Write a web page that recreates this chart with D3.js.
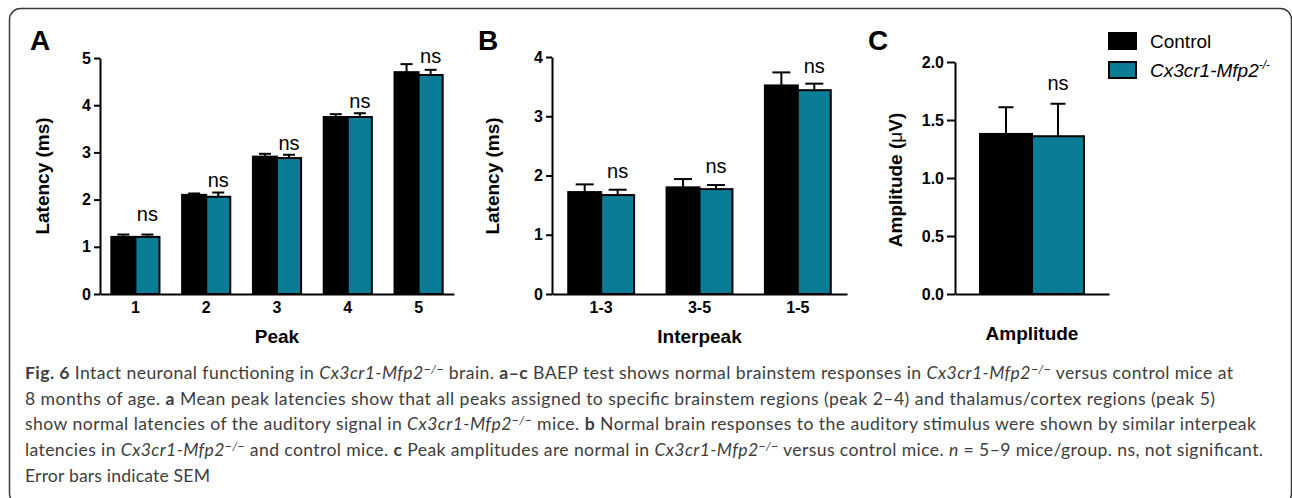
<html>
<head>
<script src="https://d3js.org/d3.v7.min.js"></script>
<style>
  body { margin: 0; background: #fff; }
</style>
</head>
<body>
<script>

    // ---- data ----
    let peakCats = ["1","2","3","4","5"];
    let peakControl = [1.21, 2.10, 2.91, 3.75, 4.70];
    let peakControlSem = [0.05, 0.03, 0.06, 0.06, 0.17];
    let peakMutant = [1.21, 2.06, 2.88, 3.75, 4.64];
    let peakMutantSem = [0.05, 0.09, 0.07, 0.08, 0.11];
    let peakNs = [1.55, 2.27, 3.05, 3.94, 4.89];
    let peakTicks = [0,1,2,3,4,5];

    let interCats = ["1-3","3-5","1-5"];
    let interControl = [1.72, 1.80, 3.52];
    let interControlSem = [0.13, 0.14, 0.22];
    let interMutant = [1.67, 1.77, 3.44];
    let interMutantSem = [0.09, 0.07, 0.11];
    let interNs = [1.96, 2.04, 3.73];
    let interTicks = [0,1,2,3,4];

    let ampCats = ["Amplitude"];
    let ampControl = [1.38];
    let ampControlSem = [0.23];
    let ampMutant = [1.36];
    let ampMutantSem = [0.28];
    let ampNs = [1.76];
    let ampTicks = [0,0.5,1.0,1.5,2.0];

    let seriesNames = ["Control","Cx3cr1-Mfp2"];
    let colors = ["#000000","#0a7c95"];

    // caption, one array per line: [text, style]
    let captionLines = [
        [["Fig. 6","b"],[" Intact neuronal functioning in ",""],["Cx3cr1-Mfp2","i"],["\u2212/\u2212","sup"],[" brain. ",""],["a\u2013c","b"],[" BAEP test shows normal brainstem responses in ",""],["Cx3cr1-Mfp2","i"],["\u2212/\u2212","sup"],[" versus control mice at",""]],
        [["8 months of age. ",""],["a","b"],[" Mean peak latencies show that all peaks assigned to specific brainstem regions (peak 2\u20134) and thalamus/cortex regions (peak 5)",""]],
        [["show normal latencies of the auditory signal in ",""],["Cx3cr1-Mfp2","i"],["\u2212/\u2212","sup"],[" mice. ",""],["b","b"],[" Normal brain responses to the auditory stimulus were shown by similar interpeak",""]],
        [["latencies in ",""],["Cx3cr1-Mfp2","i"],["\u2212/\u2212","sup"],[" and control mice. ",""],["c","b"],[" Peak amplitudes are normal in ",""],["Cx3cr1-Mfp2","i"],["\u2212/\u2212","sup"],[" versus control mice. ",""],["n","i"],[" = 5\u20139 mice/group. ns, not significant.",""]],
        [["Error bars indicate SEM",""]]
    ];
    let captionWidths = [1208, 1190, 1231, 1238, 185];

    const W = 1292, H = 498;
    const chartFont = "'Liberation Sans', Arial, sans-serif";

    let svg = d3.select("body").append("svg")
        .attr("width", W)
        .attr("height", H)
        .style("font-family", chartFont);

    // frame round the figure
    svg.append("rect")
        .attr("x", 9.5).attr("y", 8.5)
        .attr("width", 1282).attr("height", 496)
        .attr("rx", 11).attr("ry", 11)
        .attr("fill", "none")
        .attr("stroke", "#3a3a3a")
        .attr("stroke-width", 1.5);

    function drawPanel(p) {
        let g = svg.append("g");

        let x0 = d3.scaleBand()
            .domain(p.cats)
            .range([p.left, p.right])
            .paddingInner(p.pad)
            .paddingOuter(p.pad / 2);
        let x1 = d3.scaleBand()
            .domain([0, 1])
            .range([0, x0.bandwidth()]);
        let y = d3.scaleLinear()
            .domain([p.ticks[0], p.ticks[p.ticks.length - 1]])
            .range([294, p.top]);

        let series = [
            {vals: p.control, sem: p.controlSem},
            {vals: p.mutant, sem: p.mutantSem}
        ];

        // bars
        series.forEach((s, si) => {
            g.selectAll(null)
                .data(p.cats)
                .enter().append("rect")
                .attr("x", (d) => x0(d) + x1(si))
                .attr("y", (d, i) => y(s.vals[i]))
                .attr("width", x1.bandwidth())
                .attr("height", (d, i) => y(0) - y(s.vals[i]))
                .attr("fill", colors[si])
                .attr("stroke", "#000")
                .attr("stroke-width", 2);
        });

        // error bars (upper only)
        series.forEach((s, si) => {
            p.cats.forEach((c, i) => {
                let cx = x0(c) + x1(si) + x1.bandwidth() / 2;
                let top = y(s.vals[i] + s.sem[i]);
                g.append("line")
                    .attr("x1", cx).attr("x2", cx)
                    .attr("y1", y(s.vals[i])).attr("y2", top)
                    .attr("stroke", "#000").attr("stroke-width", 2);
                g.append("line")
                    .attr("x1", cx - p.cap / 2).attr("x2", cx + p.cap / 2)
                    .attr("y1", top).attr("y2", top)
                    .attr("stroke", "#000").attr("stroke-width", 2);
            });
        });

        // ns labels over the mutant bar
        g.selectAll(null)
            .data(p.cats)
            .enter().append("text")
            .attr("x", (d) => x0(d) + x1(1) + x1.bandwidth() / 2)
            .attr("y", (d, i) => y(p.ns[i]))
            .attr("text-anchor", "middle")
            .attr("font-size", 20)
            .text("ns");

        // y axis
        let yAxis = g.append("g")
            .attr("transform", "translate(" + p.left + ",0)")
            .call(d3.axisLeft(y)
                .tickValues(p.ticks)
                .tickFormat(p.fmt)
                .tickSize(p.tick)
                .tickSizeOuter(0)
                .tickPadding(3));
        yAxis.selectAll("path, line").attr("stroke", "#000").attr("stroke-width", 2);
        yAxis.selectAll("text")
            .attr("font-size", 16).attr("font-weight", "bold")
            .attr("font-family", chartFont).attr("fill", "#000");

        // x axis
        let xAxis = g.append("g")
            .attr("transform", "translate(0,294)")
            .call(d3.axisBottom(x0).tickSize(0).tickPadding(8).tickSizeOuter(0));
        xAxis.select("path").attr("stroke", "#000").attr("stroke-width", 2);
        xAxis.selectAll("text")
            .attr("font-size", 16).attr("font-weight", "bold")
            .attr("font-family", chartFont).attr("fill", "#000")
            .style("display", p.showX ? null : "none");

        // titles
        g.append("text")
            .attr("x", (p.left + p.right) / 2)
            .attr("y", p.xTitleY)
            .attr("text-anchor", "middle")
            .attr("font-size", 19).attr("font-weight", "bold")
            .text(p.xTitle);

        let yt = g.append("text")
            .attr("transform", "translate(" + p.yTitleX + "," + p.yTitleY + ") rotate(-90)")
            .attr("text-anchor", "middle")
            .attr("font-size", 19).attr("font-weight", "bold");
        p.yTitle.forEach(seg => {
            yt.append("tspan")
                .attr("font-weight", seg[1] ? "normal" : "bold")
                .text(seg[0]);
        });

        // panel letter
        g.append("text")
            .attr("x", p.letterX).attr("y", 50)
            .attr("font-size", 28).attr("font-weight", "bold")
            .text(p.letter);
    }

    drawPanel({
        cats: peakCats, control: peakControl, controlSem: peakControlSem,
        mutant: peakMutant, mutantSem: peakMutantSem, ns: peakNs, ticks: peakTicks,
        fmt: d3.format("d"), left: 100, right: 454, top: 58, pad: 0.32, cap: 12, tick: 6,
        showX: true, xTitle: "Peak", xTitleY: 343,
        yTitle: [["Latency (ms)", 0]], yTitleX: 49, yTitleY: 176,
        letter: "A", letterX: 30
    });

    drawPanel({
        cats: interCats, control: interControl, controlSem: interControlSem,
        mutant: interMutant, mutantSem: interMutantSem, ns: interNs, ticks: interTicks,
        fmt: d3.format("d"), left: 552, right: 847, top: 57, pad: 0.33, cap: 18, tick: 6,
        showX: true, xTitle: "Interpeak", xTitleY: 343,
        yTitle: [["Latency (ms)", 0]], yTitleX: 499, yTitleY: 176,
        letter: "B", letterX: 478
    });

    drawPanel({
        cats: ampCats, control: ampControl, controlSem: ampControlSem,
        mutant: ampMutant, mutantSem: ampMutantSem, ns: ampNs, ticks: ampTicks,
        fmt: d3.format(".1f"), left: 955, right: 1109, top: 62, pad: 0.325, cap: 15, tick: 8,
        showX: false, xTitle: "Amplitude", xTitleY: 340,
        yTitle: [["Amplitude (", 0], ["\u03bc", 1], ["V)", 0]], yTitleX: 902, yTitleY: 180,
        letter: "C", letterX: 868
    });

    // legend
    let legend = svg.append("g");
    seriesNames.forEach((name, i) => {
        let ly = 33 + i * 29;
        legend.append("rect")
            .attr("x", 1109).attr("y", ly)
            .attr("width", 27).attr("height", 16)
            .attr("fill", colors[i])
            .attr("stroke", "#000").attr("stroke-width", 2);
        let t = legend.append("text")
            .attr("x", 1150).attr("y", ly + 15)
            .attr("font-size", 19);
        if (i === 0) {
            t.text(name);
        } else {
            t.attr("font-style", "italic");
            t.append("tspan").text(name);
            t.append("tspan").attr("dy", -8).attr("font-size", 12).text("-/-");
        }
    });

    // caption
    let cap = svg.append("g")
        .style("font-family", "Lato, 'Open Sans', sans-serif")
        .attr("fill", "#3d3d3d");
    captionLines.forEach((line, li) => {
        let t = cap.append("text")
            .attr("x", 25)
            .attr("y", 379 + li * 25.7)
            .attr("font-size", 17.6)
            .attr("textLength", captionWidths[li])
            .attr("lengthAdjust", "spacing");
        let raised = false;
        line.forEach(seg => {
            let ts = t.append("tspan").text(seg[0]);
            if (seg[1] === "b") ts.attr("font-weight", "bold");
            if (seg[1] === "i") ts.attr("font-style", "italic");
            if (seg[1] === "sup") {
                ts.attr("font-size", 12).attr("font-style", "italic").attr("dy", -6);
                raised = true;
            } else if (raised) {
                ts.attr("dy", 6);
                raised = false;
            }
        });
    });

</script>
</body>
</html>
